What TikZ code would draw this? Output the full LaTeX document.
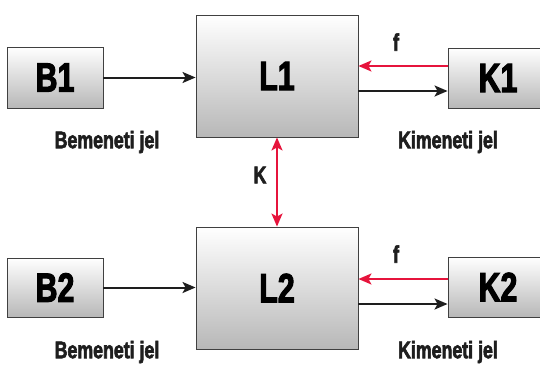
\documentclass[tikz,border=0pt]{standalone}
\usepackage{fontspec}
\setmainfont{Liberation Sans}[FakeStretch=0.74, BoldFeatures={FakeBold=2.5}]
\usetikzlibrary{arrows.meta}

\definecolor{jelred}{RGB}{230,20,60}
\definecolor{jelblack}{RGB}{30,30,30}

\tikzset{
  blokk/.style={draw=black!75, line width=0.9pt, top color=white, bottom color=black!28,
    inner sep=0pt, font=\fontsize{41}{41}\selectfont\bfseries},
  jel/.style={-{Stealth[length=13pt,width=11pt,inset=3pt]}, line width=2pt, draw=jelblack},
  visszajel/.style={jel, draw=jelred},
  felirat/.style={font=\fontsize{24}{24}\selectfont\bfseries, text=jelblack}
}

\begin{document}
\begin{tikzpicture}[x=1pt,y=-1pt]
\useasboundingbox (0,0) rectangle (540,365);
% upper chain
\node[blokk, minimum width=96pt, minimum height=61pt] (B1) at (55,77.5) {B1};
\node[blokk, minimum width=162pt, minimum height=122pt] (L1) at (277,76) {L1};
\node[blokk, minimum width=100pt, minimum height=60pt] (K1) at (498,78) {K1};
\draw[jel] (B1.east) -- (B1.east -| L1.west);
\draw[visszajel] ([yshift=12pt]K1.west) -- ([yshift=12pt]K1.west -| L1.east);
\draw[jel] ([yshift=-13pt]K1.west -| L1.east) -- ([yshift=-13pt]K1.west);
\node[felirat] (f1) at (396,42) {f};
\node[felirat] (be1) at (107,142) {Bemeneti jel};
\node[felirat] (ki1) at (448,142) {Kimeneti jel};
% lower chain
\node[blokk, minimum width=96pt, minimum height=59pt] (B2) at (55,287.5) {B2};
\node[blokk, minimum width=162pt, minimum height=122pt] (L2) at (277,288) {L2};
\node[blokk, minimum width=100pt, minimum height=60pt] (K2) at (498,287) {K2};
\draw[jel] (B2.east) -- (B2.east -| L2.west);
\draw[visszajel] ([yshift=8pt]K2.west) -- ([yshift=8pt]K2.west -| L2.east);
\draw[jel] ([yshift=-17pt]K2.west -| L2.east) -- ([yshift=-17pt]K2.west);
\node[felirat] (f2) at (396,254) {f};
\node[felirat] (be2) at (107,352) {Bemeneti jel};
\node[felirat] (ki2) at (448,352) {Kimeneti jel};
% coupling
\draw[visszajel, {Stealth[length=13pt,width=11pt,inset=3pt]}-{Stealth[length=13pt,width=11pt,inset=3pt]}] (L1.south) -- (L2.north);
\node[felirat] (K) at (260,175) {K};
\end{tikzpicture}
\end{document}
